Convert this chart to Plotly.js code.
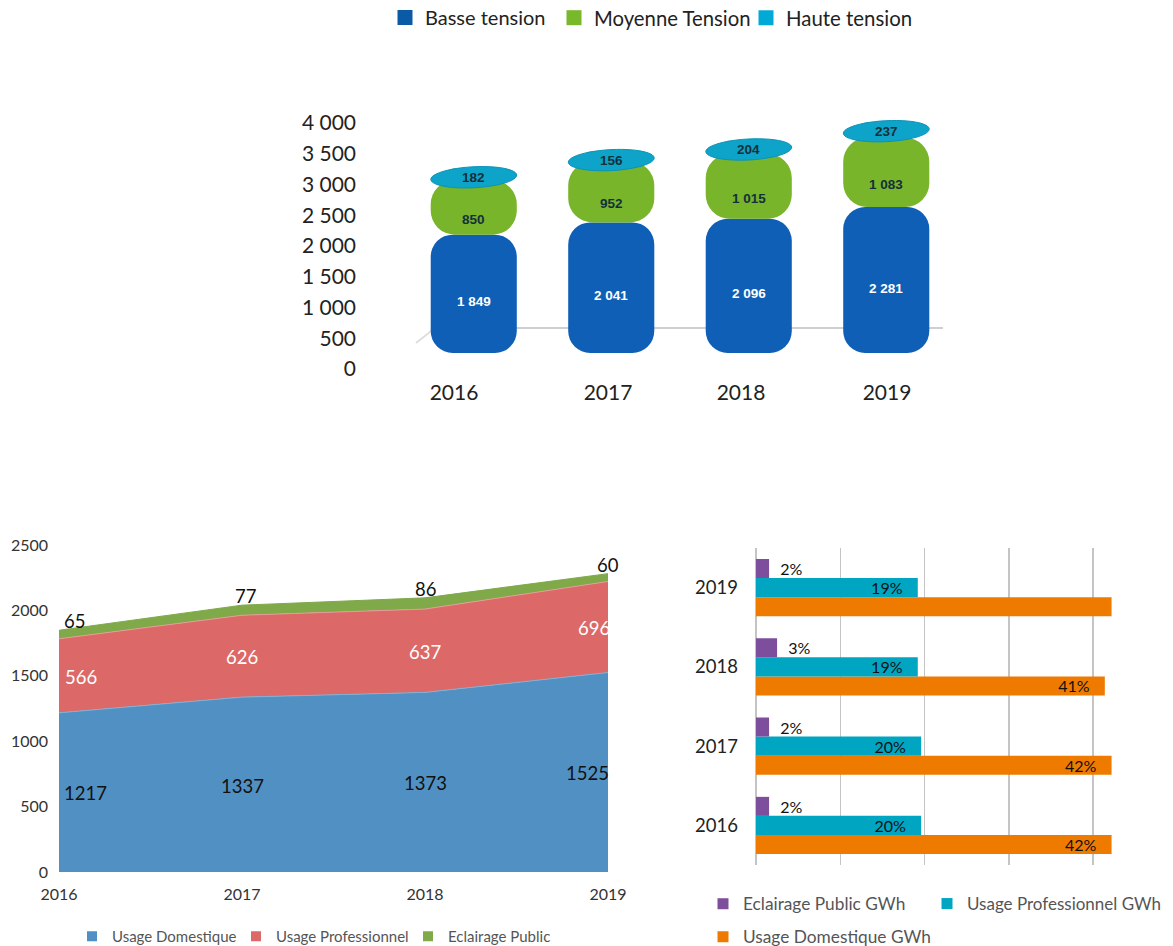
<!DOCTYPE html>
<html><head><meta charset="utf-8">
<script src="https://cdn.plot.ly/plotly-3.0.1.min.js"></script>
<style>html,body{margin:0;padding:0;background:#fff}#c{width:1173px;height:946px}</style>
</head><body><div id="c"></div>
<script>
const years = [2016,2017,2018,2019];
const yearLabels = ['2016','2017','2018','2019'];
// top chart
const basse = [1849,2041,2096,2281];
const moyenne = [850,952,1015,1083];
const haute = [182,156,204,237];
const zeros = [0,0,0,0];
const topTicks = [0,500,1000,1500,2000,2500,3000,3500,4000];
// area chart
const domestique = [1217,1337,1373,1525];
const professionnel = [566,626,637,696];
const eclairage = [65,77,86,60];
// percentage bars
const pctDomestique = [42.2,42.2,41.4,42.2];
const pctProfessionnel = [19.6,19.6,19.2,19.2];
const pctEclairage = [1.55,1.55,2.5,1.55];
const lblDomestique = ['42%','42%','41%',''];
const lblProfessionnel = ['20%','20%','19%','19%'];
const lblEclairage = ['2%','2%','3%','2%'];

const W=1173,H=946;
const px=x=>x/W, py=y=>1-y/H;
const FONT='Lato, "Open Sans", sans-serif';
const fmt=v=>{const s=String(v);return s.length>3?s.slice(0,-3)+' '+s.slice(-3):s;};
const sum=(a,b)=>a.map((v,i)=>v+b[i]);
const baseMT=basse, baseHT=sum(basse,moyenne), totals=sum(baseHT,haute);
const barW=0.626;
const NB='\u00a0';
const dummy=(name,color,size,axes,legend)=>({type:'scatter',mode:'markers',x:[null],y:[null],xaxis:axes[0],yaxis:axes[1],name,legend,
  marker:{symbol:'square',size,color},hoverinfo:'skip'});

const traces=[
 {type:'bar',name:'Basse tension',x:years,y:basse,base:zeros,xaxis:'x',yaxis:'y',offsetgroup:'t',width:barW,showlegend:false,
  marker:{color:'#0f5fb6',cornerradius:22},hoverinfo:'skip'},
 {type:'bar',name:'Moyenne Tension',x:years,y:moyenne,base:baseMT,xaxis:'x',yaxis:'y',offsetgroup:'t',width:barW,showlegend:false,
  marker:{color:'#78b52a',cornerradius:24},hoverinfo:'skip'},
 {type:'bar',name:'Haute tension',x:years,y:haute,base:baseHT,xaxis:'x',yaxis:'y',offsetgroup:'t',width:0.36,showlegend:false,
  marker:{color:'#0ea3c9',cornerradius:5},hoverinfo:'skip'},
 dummy('Basse tension','#0a5aa5',15,['x','y'],'legend'),
 dummy('Moyenne Tension','#78b82a',15,['x','y'],'legend5'),
 dummy('Haute tension','#00a9d6',15,['x','y'],'legend6'),
 {type:'scatter',mode:'markers',x:[null],y:[null],xaxis:'x2',yaxis:'y2',showlegend:false,hoverinfo:'skip'},
 // area
 {type:'scatter',mode:'lines',x:yearLabels,y:domestique,stackgroup:'a',xaxis:'x3',yaxis:'y3',fillcolor:'#5190c2',
  line:{color:'#7fb0d8',width:1},showlegend:false,hoverinfo:'skip',name:'Usage Domestique'},
 {type:'scatter',mode:'lines',x:yearLabels,y:professionnel,stackgroup:'a',xaxis:'x3',yaxis:'y3',fillcolor:'#dc6967',
  line:{color:'#e59a98',width:1},showlegend:false,hoverinfo:'skip',name:'Usage Professionnel'},
 {type:'scatter',mode:'lines',x:yearLabels,y:eclairage,stackgroup:'a',xaxis:'x3',yaxis:'y3',fillcolor:'#80a94a',
  line:{color:'#80a94a',width:1},showlegend:false,hoverinfo:'skip',name:'Eclairage Public'},
 dummy('Usage Domestique','#4f8fc4',10,['x3','y3'],'legend2'),
 dummy('Usage Professionnel','#dc6967',10,['x3','y3'],'legend7'),
 dummy('Eclairage Public','#80a94a',10,['x3','y3'],'legend8'),
 // horizontal bars
 {type:'bar',orientation:'h',name:'Usage Domestique GWh',y:yearLabels,x:pctDomestique,xaxis:'x4',yaxis:'y4',showlegend:false,
  marker:{color:'#ee7b00'},text:lblDomestique.map(t=>t?t+NB+NB+NB:''),textposition:'inside',insidetextanchor:'end',
  constraintext:'none',textfont:{family:FONT,size:16,color:'#111'},hoverinfo:'skip'},
 {type:'bar',orientation:'h',name:'Usage Professionnel GWh',y:yearLabels,x:pctProfessionnel,xaxis:'x4',yaxis:'y4',showlegend:false,
  marker:{color:'#00a5c2'},text:lblProfessionnel.map(t=>t+NB+NB+NB),textposition:'inside',insidetextanchor:'end',
  constraintext:'none',textfont:{family:FONT,size:16,color:'#111'},hoverinfo:'skip'},
 {type:'bar',orientation:'h',name:'Eclairage Public GWh',y:yearLabels,x:pctEclairage,xaxis:'x4',yaxis:'y4',showlegend:false,
  marker:{color:'#7d4e9b'},text:lblEclairage.map(t=>NB+NB+t),textposition:'outside',cliponaxis:false,
  constraintext:'none',textfont:{family:FONT,size:16,color:'#111'},hoverinfo:'skip'},
 dummy('Eclairage Public GWh','#7d4e9b',11,['x4','y4'],'legend3'),
 dummy('Usage Professionnel GWh','#00a5c2',11,['x4','y4'],'legend9'),
 dummy('Usage Domestique GWh','#ee7b00',11,['x4','y4'],'legend4')
];

const annotations=[];
const note=(xr,yr,x,y,text,o)=>annotations.push(Object.assign({xref:xr,yref:yr,x,y,text,showarrow:false},o));
years.forEach((yr,i)=>{
  const tf={family:'"Liberation Sans",Arial,sans-serif',size:13.5,color:'#14303a',weight:700};
  note('x','y',yr,basse[i]/2,fmt(basse[i]),{yshift:-8,font:Object.assign({},tf,{color:'#fff'})});
  note('x','y',yr,baseMT[i]+moyenne[i]/2,fmt(moyenne[i]),{yshift:-12,font:tf});
  note('x','y',yr,totals[i]-135,fmt(haute[i]),{font:tf});
});
const blueShift=[26,0,0,-21], redShift=[22,0,0,-14], topShift=[15,3,0,0];
const areaFont=c=>({family:FONT,size:18.5,color:c});
years.forEach((yr,i)=>{
  note('x3','y3',i,domestique[i]/2,String(domestique[i]),{xshift:blueShift[i],yshift:-1,font:areaFont('#111')});
  note('x3','y3',i,domestique[i]+professionnel[i]/2,String(professionnel[i]),{xshift:redShift[i],yshift:-1,font:areaFont('#fff')});
  note('x3','y3',i,domestique[i]+professionnel[i]+eclairage[i],String(eclairage[i]),{xshift:topShift[i],yshift:9,font:areaFont('#111')});
});

const shapes=[
 {type:'line',xref:'paper',yref:'paper',x0:px(435),x1:px(943),y0:py(328),y1:py(328),layer:'below',line:{color:'#cfcfcf',width:2}},
 {type:'line',xref:'paper',yref:'paper',x0:px(416),x1:px(435),y0:py(343),y1:py(328),layer:'below',line:{color:'#dedede',width:2}}
];
// tilted ellipse cap on each stack, placed from the stack total
const pxPerYear=137.5, pxPerUnit=0.064, tilt=-3*Math.PI/180;
totals.forEach((t,i)=>{
  const pts=[];
  for(let k=0;k<48;k++){
    const a=k/48*2*Math.PI, ex=43*Math.cos(a), ey=10.5*Math.sin(a);
    const rx=ex*Math.cos(tilt)-ey*Math.sin(tilt), ry=ex*Math.sin(tilt)+ey*Math.cos(tilt);
    pts.push((years[i]+rx/pxPerYear)+','+((t-135)-ry/pxPerUnit));
  }
  shapes.push({type:'path',xref:'x',yref:'y',path:'M'+pts.join('L')+'Z',fillcolor:'#0ea3c9',line:{color:'#0c93b8',width:1}});
});

const hiddenX={showgrid:false,zeroline:false,showticklabels:false,ticks:'',showline:false,fixedrange:true};
const lg=(x,y,size,color)=>({orientation:'h',x:px(x),xanchor:'left',y:py(y),yanchor:'top',
  font:{family:FONT,size,color},bgcolor:'rgba(0,0,0,0)'});
const layout={
 width:W,height:H,paper_bgcolor:'#fff',plot_bgcolor:'rgba(0,0,0,0)',
 margin:{l:0,r:0,t:0,b:0,autoexpand:false},
 font:{family:FONT,color:'#333'},
 barmode:'group',bargap:0.28,bargroupgap:0,
 xaxis:Object.assign({},hiddenX,{type:'linear',range:[2015.5,2019.5],domain:[px(405),px(955)],anchor:'y'}),
 yaxis:Object.assign({},hiddenX,{range:[0,4000],domain:[py(353),py(97)],anchor:'x'}),
 xaxis2:{type:'linear',range:[357,955],domain:[px(357),px(955)],anchor:'y2',showgrid:false,zeroline:false,showline:false,ticks:'',
   tickmode:'array',tickvals:[454,608,741,887],ticktext:yearLabels,ticklabelstandoff:9,tickfont:{family:FONT,size:21,color:'#222'}},
 yaxis2:{range:[0,4000],domain:[py(369),py(123)],anchor:'x2',showgrid:false,zeroline:false,showline:false,ticks:'',
   tickmode:'array',tickvals:topTicks,ticktext:topTicks.map(fmt),tickfont:{family:FONT,size:21,color:'#222'}},
 xaxis3:{type:'category',range:[0,3],domain:[px(59),px(608)],anchor:'y3',showgrid:false,zeroline:false,showline:false,ticks:'',
   ticklabelstandoff:11,tickfont:{family:FONT,size:16,color:'#333'}},
 yaxis3:{range:[0,2500],domain:[py(872),py(545)],anchor:'x3',showgrid:false,zeroline:false,showline:false,ticks:'',
   dtick:500,ticklabelstandoff:10,tickfont:{family:FONT,size:16,color:'#333'}},
 xaxis4:{range:[0,43],domain:[px(756),px(1118.3)],anchor:'y4',showgrid:true,gridcolor:'#c4c4c4',gridwidth:1.5,dtick:10,
   zeroline:true,zerolinecolor:'#c4c4c4',zerolinewidth:2,showticklabels:false,ticks:''},
 yaxis4:{type:'category',categoryorder:'array',categoryarray:yearLabels,domain:[py(865),py(548)],anchor:'x4',showgrid:false,zeroline:false,showline:false,ticks:'',
   ticklabelstandoff:17,tickfont:{family:FONT,size:18.5,color:'#222'}},
 legend:lg(385,-2,20,'#222'),
 legend5:lg(554,-2,20.3,'#222'),
 legend6:lg(746,-2,20.4,'#222'),
 legend2:lg(72,920,15,'#555'),
 legend7:lg(236,920,15,'#555'),
 legend8:lg(408,920,15,'#555'),
 legend3:lg(703,886,17.3,'#555'),
 legend9:lg(927,886,17,'#555'),
 legend4:lg(703,919,17.3,'#555'),
 annotations,shapes,showlegend:true,hovermode:false
};
Plotly.newPlot('c',traces,layout,{displayModeBar:false,staticPlot:true});
</script></body></html>
